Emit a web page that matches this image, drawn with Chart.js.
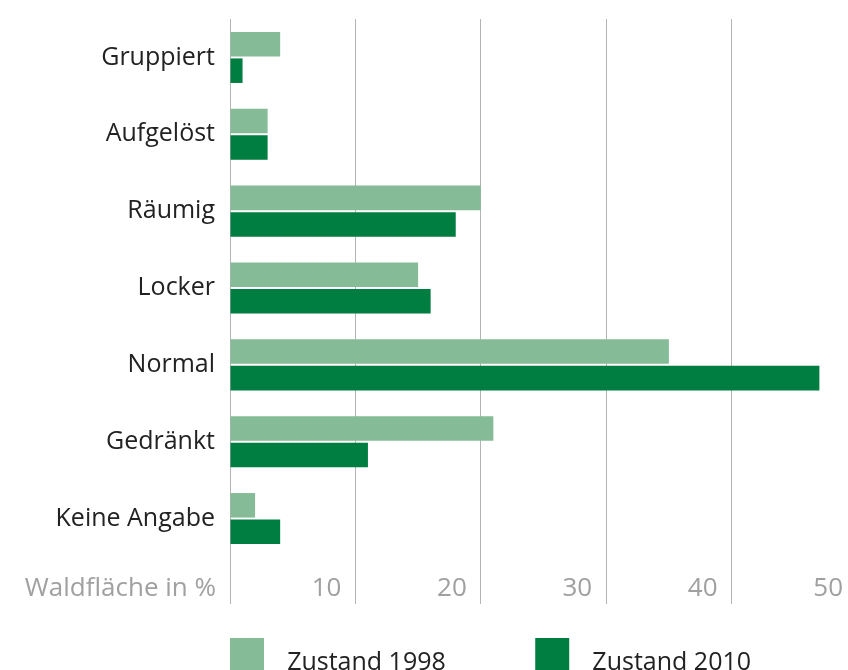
<!DOCTYPE html>
<html>
<head>
<meta charset="utf-8">
<script src="https://cdn.jsdelivr.net/npm/chart.js@4"></script>
<style>
  body { margin: 0; background: #fff; }
  #wrap { width: 848px; height: 670px; overflow: hidden; }
</style>
</head>
<body>
<div id="wrap"><canvas id="myChart" width="880" height="700"></canvas></div>
<script>
const categories = ['Gruppiert', 'Aufgelöst', 'Räumig', 'Locker', 'Normal', 'Gedränkt', 'Keine Angabe'];
const values1998 = [4, 3, 20, 15, 35, 21, 2];
const values2010 = [1, 3, 18, 16, 47, 11, 4];
const seriesNames = ['Zustand 1998', 'Zustand 2010'];
const xTicks = [0, 10, 20, 30, 40, 50];
const xTitle = 'Waldfläche in %';

// pad legend text with spaces so the items land where they should
const mctx = document.createElement('canvas').getContext('2d');
mctx.font = '25px "Open Sans"';
function padTo(text, w) {
  let s = ' \u2009' + text;
  while (mctx.measureText(s + ' ').width <= w) s += ' ';
  while (mctx.measureText(s + '\u200A').width <= w) s += '\u200A';
  return s;
}

const data = {
  labels: categories,
  datasets: [{
    label: seriesNames[0],
    backgroundColor: '#85bb97',
    data: values1998,
    categoryPercentage: 0.69,
    barPercentage: 0.925
  }, {
    label: seriesNames[1],
    backgroundColor: '#007d40',
    data: values2010,
    categoryPercentage: 0.69,
    barPercentage: 0.925
  }]
};

const config = {
  type: 'bar',
  data: data,
  options: {
    indexAxis: 'y',
    responsive: false,
    animation: false,
    layout: { padding: { top: 19, right: 23, bottom: 2, left: 0 } },
    plugins: {
      tooltip: { enabled: false },
      legend: {
        position: 'bottom',
        align: 'start',
        fullSize: false,
        labels: {
          boxWidth: 34,
          boxHeight: 50,
          padding: 0,
          color: '#222',
          font: { family: 'Open Sans', size: 25 },
          generateLabels: chart => {
            const items = Chart.defaults.plugins.legend.labels.generateLabels(chart);
            items.forEach(it => { it.text = padTo(it.text, 259.5); it.lineWidth = 0; });
            return items;
          }
        }
      }
    },
    scales: {
      x: {
        min: 0,
        max: 50,
        afterBuildTicks: s => { s.ticks = xTicks.map(v => ({ value: v })); },
        afterFit: s => { s.height = 81; },
        grid: { color: '#b4b4b4', lineWidth: 1, tickLength: 47 },
        border: { display: false },
        ticks: {
          align: 'end',
          labelOffset: -14,
          padding: -31,
          maxRotation: 0,
          minRotation: 0,
          autoSkip: false,
          color: '#a0a0a0',
          font: { family: 'Open Sans', size: 26 },
          callback: v => v === 0 ? xTitle : v
        }
      },
      y: {
        afterFit: s => { s.width = 230; s.paddingTop = 0; s.paddingBottom = 0; },
        grid: { display: false, drawTicks: false },
        border: { display: false },
        ticks: {
          padding: 15,
          color: '#222',
          font: { family: 'Open Sans', size: 25 }
        }
      }
    }
  }
};

const myChart = new Chart(document.getElementById('myChart'), config);
</script>
</body>
</html>
